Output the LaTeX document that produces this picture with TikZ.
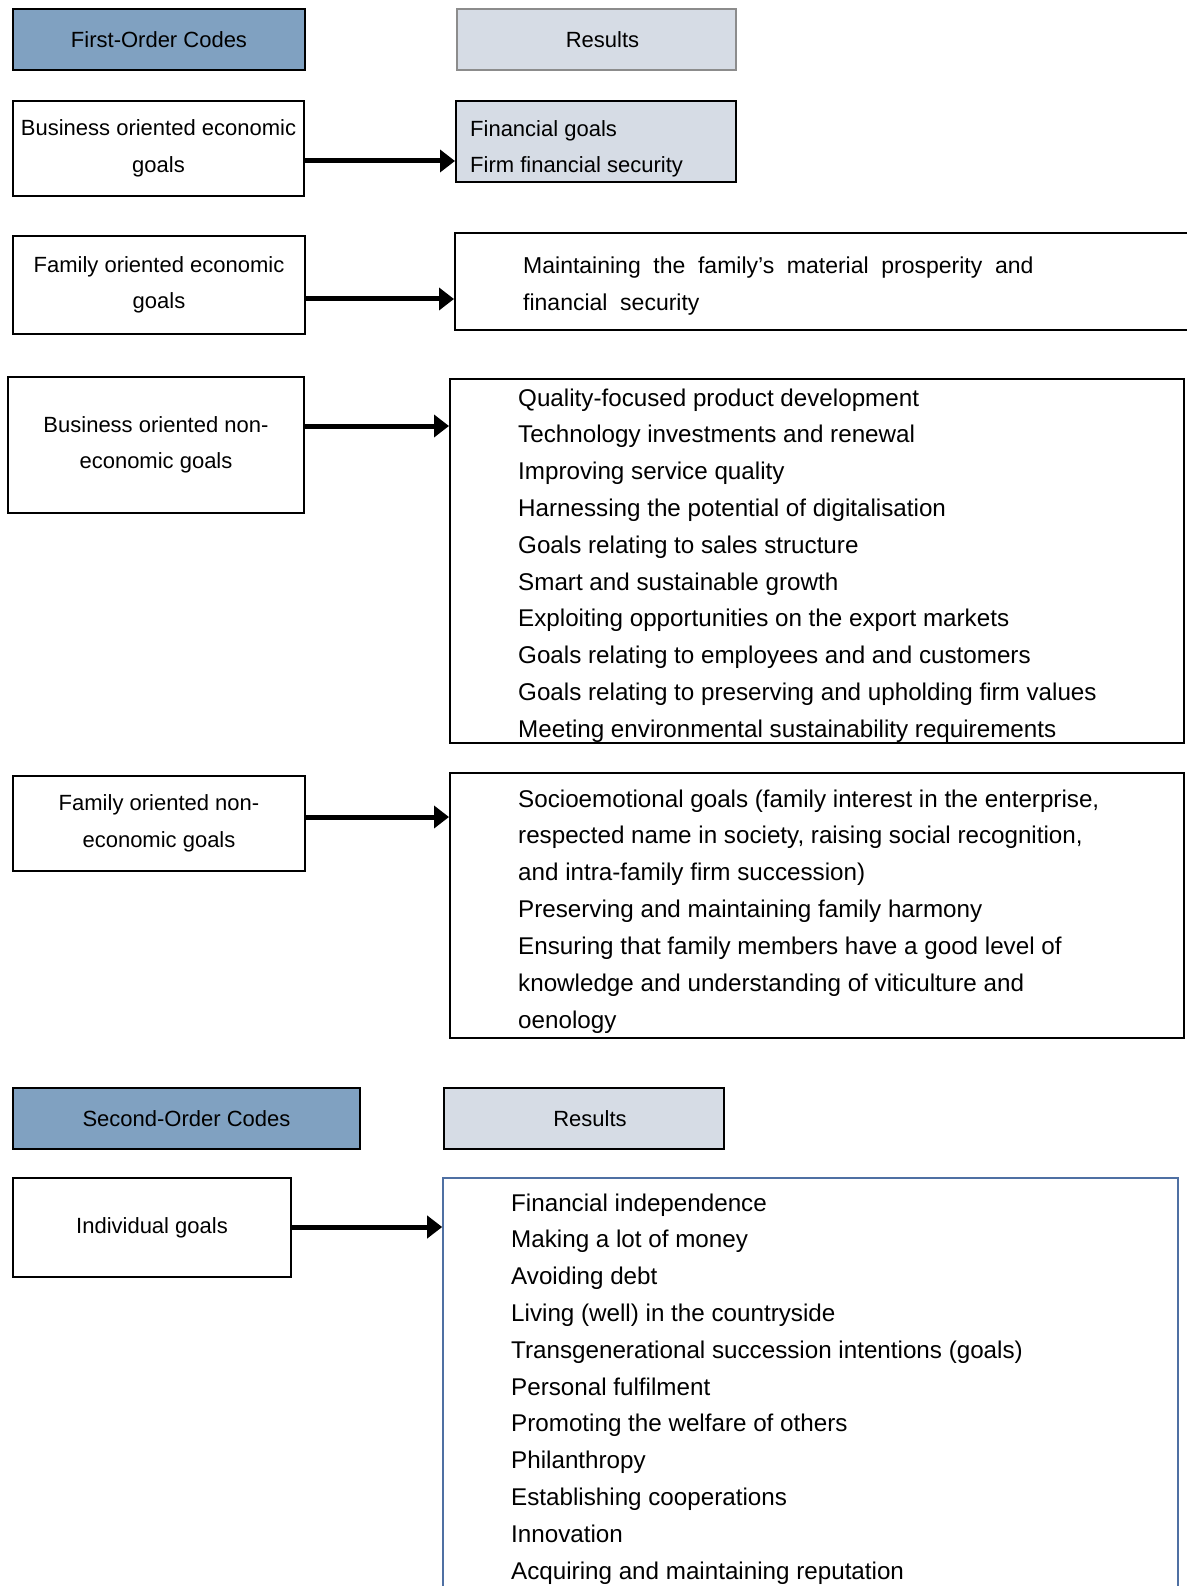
\documentclass[tikz,border=0pt]{standalone}
\usepackage{fontspec}
\setmainfont{Liberation Sans}
\usetikzlibrary{arrows.meta}
\definecolor{headblue}{RGB}{128,161,193}
\definecolor{resgray}{RGB}{214,220,229}
\definecolor{greyline}{RGB}{140,140,140}
\definecolor{boxblue}{RGB}{79,112,163}
\newcommand\lftfont{\fontsize{22}{36.4}\selectfont}
\newcommand\rgtfont{\fontsize{24.2}{36.8}\selectfont}
\newcommand\matfont{\fontsize{23}{36.8}\selectfont\spaceskip=0.55em plus 0.1em\relax}
\newcommand\smlfont{\fontsize{22}{36}\selectfont}
\begin{document}
\begin{tikzpicture}[x=1pt,y=-1pt,
  box/.style={draw=black,line width=2pt,rectangle,inner sep=0pt,align=center,font=\lftfont},
  headbox/.style={box,fill=headblue},
  resbox/.style={box,fill=resgray},
  listbox/.style={draw=black,line width=2pt,rectangle,inner sep=0pt},
  item/.style={anchor=base west,inner sep=0pt,font=\rgtfont},
  matitem/.style={anchor=base west,inner sep=0pt,font=\matfont},
  smitem/.style={anchor=base west,inner sep=0pt,font=\smlfont},
  arr/.style={line width=5pt,-{Triangle[length=15pt,width=22pt]}}]
\useasboundingbox (0,0) rectangle (1186,1586);
\fill[white] (0,0) rectangle (1186,1586);
% header row 1
\node[headbox,minimum width=292pt,minimum height=61pt] (foc) at (159,39.5) {First-Order Codes};
\node[resbox,draw=greyline,minimum width=279pt,minimum height=61pt] (res1) at (596.5,39.5) {\hspace*{12pt}Results};
% row 1
\node[box,minimum width=291pt,minimum height=95pt] (boe) at (158.5,148.5) {Business oriented economic\\goals};
\node[resbox,minimum width=280pt,minimum height=81pt] (fin) at (596,141.5) {};
\node[smitem] (fin-0) at (470,137) {Financial goals};
\node[smitem] (fin-1) at (470,173) {Firm financial security};
\coordinate (a1) at (0,161);
\draw[arr] (boe.east |- a1) -- (fin.west |- a1);
% row 2
\node[box,minimum width=292pt,minimum height=98pt] (foe) at (159,285) {Family oriented economic\\goals};
\node[listbox,minimum width=745pt,minimum height=97pt] (mat) at (827.5,281.5) {};
\node[matitem] (mat-0) at (523,274) {Maintaining the family’s material prosperity and};
\node[matitem] (mat-1) at (523,310) {financial security};
\coordinate (a2) at (0,299);
\draw[arr] (foe.east |- a2) -- (mat.west |- a2);
% row 3
\node[box,minimum width=296pt,minimum height=136pt] (bone) at (156,445) {Business oriented non-\\economic goals};
\node[listbox,minimum width=734pt,minimum height=364pt] (b1) at (817,561) {};
\foreach \t [count=\i from 0] in {
  {Quality-focused product development},
  {Technology investments and renewal},
  {Improving service quality},
  {Harnessing the potential of digitalisation},
  {Goals relating to sales structure},
  {Smart and sustainable growth},
  {Exploiting opportunities on the export markets},
  {Goals relating to employees and and customers},
  {Goals relating to preserving and upholding firm values},
  {Meeting environmental sustainability requirements}}
  \node[item] (b1-\i) at (518,{406+\i*36.8}) {\t};
\coordinate (a3) at (0,426);
\draw[arr] (bone.east |- a3) -- (b1.west |- a3);
% row 4
\node[box,minimum width=292pt,minimum height=95pt] (fone) at (159,823.5) {Family oriented non-\\economic goals};
\node[listbox,minimum width=734pt,minimum height=265pt] (b2) at (817,905.5) {};
\foreach \t [count=\i from 0] in {
  {Socioemotional goals (family interest in the enterprise,},
  {respected name in society, raising social recognition,},
  {and intra-family firm succession)},
  {Preserving and maintaining family harmony},
  {Ensuring that family members have a good level of},
  {knowledge and understanding of viticulture and},
  {oenology}}
  \node[item] (b2-\i) at (518,{807+\i*36.9}) {\t};
\coordinate (a4) at (0,817);
\draw[arr] (fone.east |- a4) -- (b2.west |- a4);
% header row 2
\node[headbox,minimum width=347pt,minimum height=61pt] (soc) at (186.5,1118.5) {Second-Order Codes};
\node[resbox,minimum width=280pt,minimum height=61pt] (res2) at (584,1118.5) {\hspace*{12pt}Results};
% row 5
\node[box,minimum width=278pt,minimum height=99pt] (ind) at (152,1227.5) {Individual goals};
\node[listbox,draw=boxblue,line width=1.6pt,minimum width=735pt,minimum height=422pt] (b3) at (810.5,1389) {};
\foreach \t [count=\i from 0] in {
  {Financial independence},
  {Making a lot of money},
  {Avoiding debt},
  {Living (well) in the countryside},
  {Transgenerational succession intentions (goals)},
  {Personal fulfilment},
  {Promoting the welfare of others},
  {Philanthropy},
  {Establishing cooperations},
  {Innovation},
  {Acquiring and maintaining reputation}}
  \node[item] (b3-\i) at (511,{1211+\i*36.8}) {\t};
\coordinate (a5) at (0,1227);
\draw[arr] (ind.east |- a5) -- (b3.west |- a5);
\end{tikzpicture}
\end{document}
